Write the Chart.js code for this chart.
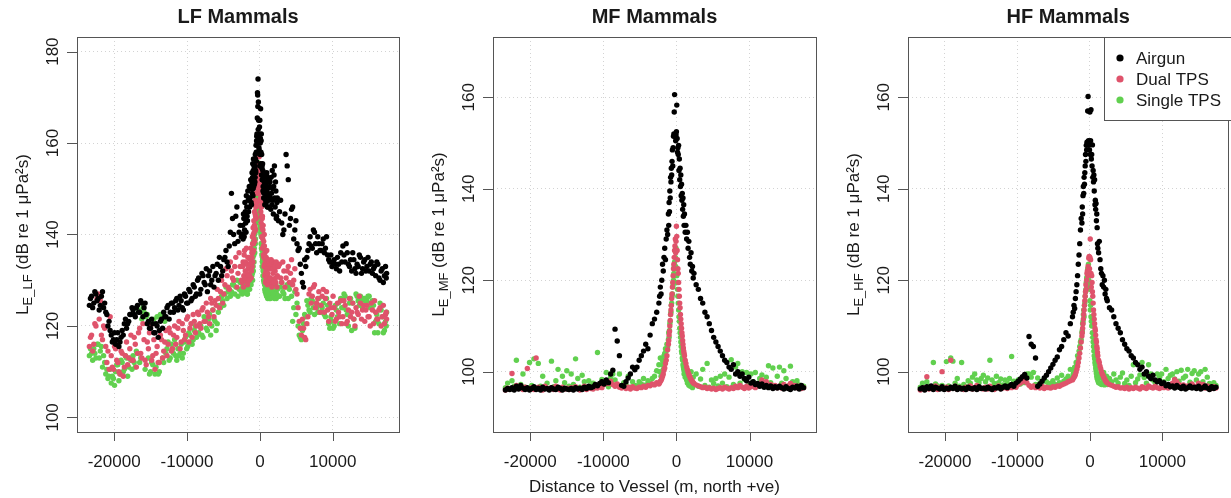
<!DOCTYPE html>
<html>
<head>
<meta charset="utf-8">
<script src="https://cdn.jsdelivr.net/npm/chart.js"></script>
<style>
  html, body { margin: 0; padding: 0; background: #fff; }
  #wrap { position: relative; width: 1231px; height: 498px; overflow: hidden; }
  #wrap canvas { position: absolute; top: 0; }
</style>
</head>
<body>
<div id="wrap">
  <canvas id="lf" width="410" height="498" style="left:0px"></canvas>
  <canvas id="mf" width="410" height="498" style="left:410px"></canvas>
  <canvas id="hf" width="411" height="498" style="left:820px"></canvas>
</div>
<script>
// distance to vessel (m, north +ve), shared by all three panels
const distance = [
  -23400, -23100, -22800, -22500, -22200, -21900, -21600, -21300, -21000, -20700,
  -20400, -20100, -19800, -19500, -19200, -18900, -18600, -18300, -18000, -17700,
  -17400, -17100, -16800, -16500, -16200, -15900, -15600, -15300, -15000, -14700,
  -14400, -14100, -13800, -13500, -13200, -12900, -12600, -12300, -12000, -11700,
  -11400, -11100, -10800, -10500, -10200, -9900, -9600, -9300, -9000, -8700,
  -8400, -8100, -7800, -7500, -7200, -6900, -6600, -6300, -6000, -5700,
  -5400, -5100, -4800, -4500, -4200, -3900, -3600, -3300, -3000, -2700,
  -2400, -2300, -2200, -2100, -2000, -1900, -1800, -1700, -1600, -1500,
  -1400, -1300, -1200, -1100, -1050, -1000, -950, -900, -850, -800,
  -750, -700, -650, -600, -550, -500, -450, -400, -350, -300,
  -250, -200, -150, -100, -50, 0, 50, 100, 150, 200,
  250, 300, 350, 400, 450, 500, 550, 600, 650, 700,
  750, 800, 850, 900, 950, 1000, 1050, 1100, 1200, 1300,
  1400, 1500, 1600, 1700, 1800, 1900, 2000, 2100, 2200, 2300,
  2400, 2700, 3000, 3300, 3600, 3900, 4200, 4500, 4800, 5100,
  5400, 5700, 6000, 6300, 6600, 6900, 7200, 7500, 7800, 8100,
  8400, 8700, 9000, 9300, 9600, 9900, 10200, 10500, 10800, 11100,
  11400, 11700, 12000, 12300, 12600, 12900, 13200, 13500, 13800, 14100,
  14400, 14700, 15000, 15300, 15600, 15900, 16200, 16500, 16800, 17100,
  17400
];
// second pass of LF measurements, between the first ones
const distanceB = [
  -23250, -22950, -22650, -22350, -22050, -21750, -21450, -21150, -20850, -20550,
  -20250, -19950, -19650, -19350, -19050, -18750, -18450, -18150, -17850, -17550,
  -17250, -16950, -16650, -16350, -16050, -15750, -15450, -15150, -14850, -14550,
  -14250, -13950, -13650, -13350, -13050, -12750, -12450, -12150, -11850, -11550,
  -11250, -10950, -10650, -10350, -10050, -9750, -9450, -9150, -8850, -8550,
  -8250, -7950, -7650, -7350, -7050, -6750, -6450, -6150, -5850, -5550,
  -5250, -4950, -4650, -4350, -4050, -3750, -3450, -3150, -2850, -2550,
  -2350, -2250, -2150, -2050, -1950, -1850, -1750, -1650, -1550, -1450,
  -1350, -1250, -1150, -1075, -1025, -975, -925, -875, -825, -775,
  -725, -675, -625, -575, -525, -475, -425, -375, -325, -275,
  -225, -175, -125, -75, -25, 25, 75, 125, 175, 225,
  275, 325, 375, 425, 475, 525, 575, 625, 675, 725,
  775, 825, 875, 925, 975, 1025, 1075, 1150, 1250, 1350,
  1450, 1550, 1650, 1750, 1850, 1950, 2050, 2150, 2250, 2350,
  2550, 2850, 3150, 3450, 3750, 4050, 4350, 4650, 4950, 5250,
  5550, 5850, 6150, 6450, 6750, 7050, 7350, 7650, 7950, 8250,
  8550, 8850, 9150, 9450, 9750, 10050, 10350, 10650, 10950, 11250,
  11550, 11850, 12150, 12450, 12750, 13050, 13350, 13650, 13950, 14250,
  14550, 14850, 15150, 15450, 15750, 16050, 16350, 16650, 16950, 17250,
  17350
];

// LF weighted levels
const lfAirgun = [
  124.5, 126.5, 125, 127, 126, 124.5, 127.5, 125, 122.5, 121,
  118, 117, 116, 118.5, 116.5, 119, 120.5, 119.5, 121, 122.5,
  123.5, 122, 124.5, 123, 125, 124, 122.5, 121, 119.5, 120.5,
  118.5, 120, 119, 121.5, 123, 122, 124.5, 123, 125, 124,
  126, 124.5, 125.5, 123.5, 126.5, 125, 127.5, 126, 128.5, 127,
  130.5, 128, 131, 129, 127.5, 132, 130, 128.5, 131.5, 130,
  133, 132, 135, 134, 137.5, 149, 140, 144, 138.5, 142,
  140, 139, 143.5, 141, 145, 140.5, 146, 143, 147.5, 148,
  146, 150, 147, 151.5, 149, 152.5, 148.5, 154, 150.5, 155,
  151, 155, 152.5, 156.5, 153.5, 158, 160.5, 162, 165.5, 170.5,
  174, 169, 161, 158.5, 163.5, 165, 160, 167.5, 158, 162,
  157.5, 155, 152, 154, 150.5, 153, 149, 151.5, 148, 150,
  152.5, 147.5, 151, 149, 153.5, 148.5, 150, 146, 152, 148.5,
  151.5, 145.5, 149, 154, 147.5, 150.5, 155, 146, 149.5, 144,
  148, 145, 142.5, 141, 157.5, 152, 143.5, 146, 141, 138,
  137, 131.5, 128.5, 133, 136.5, 139.5, 137, 140.5, 136, 138,
  136.5, 139, 137, 135.5, 134, 133, 134.5, 132.5, 133.5, 136,
  137.5, 134, 136, 133, 132, 134.5, 131.5, 133, 135, 132.5,
  134.5, 133, 132, 134, 132.5, 131, 133.5, 130, 132.5, 131,
  131.5
];
const lfAirgunB = [
  126, 124, 127.5, 125.5, 123.5, 126.5, 124, 123, 120, 119,
  116.5, 118.5, 117, 115.5, 117.5, 118, 121.5, 120.5, 122.5, 124,
  122.5, 124, 123, 125.5, 122, 125, 120.5, 119.5, 121.5, 118.5,
  120.5, 117.5, 121, 119.5, 122, 124, 121.5, 125, 123, 125.5,
  123.5, 126.5, 124, 127, 125, 128, 125.5, 129, 126.5, 130,
  127, 131.5, 129.5, 132.5, 131, 129, 133, 131, 133.5, 135,
  131, 134.5, 136.5, 133, 140.5, 143.5, 138, 146, 140.5, 139.5,
  142, 144.5, 139.5, 147, 142.5, 148.5, 144, 149.5, 145, 150.5,
  148, 152, 146.5, 153.5, 151, 155.5, 150, 156.5, 152, 153.5,
  154.5, 151.5, 157.5, 154, 159.5, 156, 161.5, 160, 171, 168,
  163, 165, 159, 162, 155, 157.5, 161, 155.5, 160.5, 153,
  154.5, 152, 155.5, 149.5, 152.5, 148, 153.5, 150, 146.5, 151,
  149, 151.5, 147, 153, 150, 146, 152.5, 149, 147.5, 150.5,
  148, 152.5, 146.5, 150, 144.5, 153, 148, 151.5, 143.5, 147,
  143, 147.5, 140, 144.5, 155, 142, 145.5, 139, 143, 136.5,
  133.5, 129.5, 134.5, 135, 138, 137.5, 141, 138, 139.5, 136.5,
  138, 136, 139.5, 134.5, 135.5, 134, 133.5, 135, 132, 134,
  135.5, 138, 133.5, 134.5, 136, 132.5, 133.5, 135.5, 131.5, 134,
  132, 135, 133.5, 131.5, 133, 134, 130.5, 132, 129.5, 133,
  130.5
];
const lfDual = [
  115.5, 118, 116, 120, 127, 125.5, 117, 119.5, 112, 110.5,
  113.5, 110.5, 115, 112, 109.5, 114, 111, 116.5, 113, 118,
  112.5, 116, 114, 119.5, 113, 117, 111.5, 115, 120, 113.5,
  110.5, 115.5, 112, 117, 114.5, 119, 116, 118.5, 115, 120,
  117.5, 121, 116.5, 119, 118, 122, 119.5, 117.5, 121, 120,
  122.5, 119.5, 124, 121, 123, 120.5, 125, 122, 124.5, 126,
  127.5, 125, 129, 131, 128, 132, 130, 135, 131.5, 133,
  129.5, 134, 131, 136.5, 132, 130, 133.5, 129, 132.5, 135,
  131, 134.5, 130.5, 136, 133, 138, 134, 140, 136.5, 139,
  142, 138.5, 144.5, 141, 146, 143.5, 149, 147, 152, 150,
  155.5, 153, 161.5, 157, 154, 152, 150.5, 148, 146, 144,
  147, 141.5, 144, 139, 142, 137.5, 135, 140, 133.5, 136,
  131.5, 134.5, 130, 133, 136.5, 131, 134, 129.5, 133, 130.5,
  132.5, 130, 133.5, 129, 131.5, 134, 130, 132, 129.5, 133,
  131, 133.5, 129.5, 132, 130.5, 133, 131.5, 129, 132.5, 127,
  121, 118, 119.5, 117, 122, 128, 126.5, 129, 125, 127.5,
  124.5, 128, 126, 123.5, 125, 122.5, 124, 121.5, 123, 125.5,
  122, 124.5, 121, 126, 123, 121.5, 124, 122.5, 125, 123.5,
  121, 124.5, 122, 125, 120.5, 123, 121.5, 124, 122, 120.5,
  121.5
];
const lfDualB = [
  117.5, 114.5, 120.5, 126, 121.5, 118, 120, 115.5, 114.5, 122,
  111, 115.5, 112.5, 110, 114.5, 109, 113.5, 111.5, 115, 112.5,
  117.5, 111, 118.5, 114, 120.5, 112.5, 116.5, 118.5, 112.5, 117,
  114, 112, 118, 113, 116.5, 113.5, 119.5, 114.5, 118, 116,
  119.5, 115, 120.5, 117, 121.5, 116.5, 120.5, 122.5, 118.5, 123,
  120.5, 123.5, 121, 125, 122, 126, 123.5, 125.5, 128, 124,
  130, 127, 132.5, 128.5, 134, 130.5, 133, 128.5, 136, 130,
  133, 128.5, 135.5, 130.5, 134, 137, 131.5, 135, 131, 130,
  133.5, 137, 132, 135, 139.5, 136, 141.5, 138, 143, 140.5,
  145, 141.5, 147.5, 144, 149, 146.5, 153, 150.5, 155, 153.5,
  158, 151.5, 149, 155.5, 151, 147.5, 149.5, 145, 142.5, 146,
  139.5, 143.5, 137, 141, 135.5, 138.5, 133, 137.5, 131, 134.5,
  129.5, 132, 135, 130.5, 132.5, 129, 131.5, 134.5, 130, 132.5,
  130.5, 134.5, 128.5, 132.5, 130, 129.5, 133, 130.5, 134, 128.5,
  133, 130.5, 134, 128.5, 132, 129.5, 134.5, 130, 128, 124,
  119.5, 121.5, 117.5, 120.5, 127, 125, 128.5, 124, 126, 123,
  126.5, 123, 127.5, 121, 124, 126.5, 121, 125, 122, 120.5,
  125.5, 120.5, 123.5, 122, 125, 120, 123, 126.5, 121.5, 124.5,
  123.5, 122, 120, 123.5, 125.5, 121.5, 123.5, 120, 124.5, 122.5,
  123
];
const lfSingle = [
  113.5, 114, 115, 113, 116, 114.5, 111, 112, 110.5, 109,
  107.5, 108.5, 110, 111.5, 109.5, 112, 110.5, 113, 111, 112.5,
  113.5, 111, 114, 112, 121.5, 123, 122, 113, 110, 111.5,
  109.5, 122, 110, 121.5, 112, 114, 116.5, 113, 115, 117,
  112.5, 113.5, 116, 114, 117.5, 115.5, 118, 116, 119, 117.5,
  118.5, 120, 117.5, 121, 119, 122.5, 120, 121.5, 119, 123,
  124, 125.5, 127, 126, 128, 127.5, 129, 128.5, 126.5, 129.5,
  127, 129, 128, 130, 127.5, 129.5, 128.5, 127, 130, 129,
  128, 130.5, 129, 131, 133, 130, 135, 132, 137, 134,
  138, 136, 140.5, 139, 143, 141, 146, 144.5, 149, 147,
  152, 155.5, 150, 148, 146.5, 144, 145, 142, 140, 139.5,
  138, 136.5, 134, 135, 132, 133.5, 131, 130, 129, 131.5,
  128, 130, 127.5, 129.5, 128.5, 126.5, 129, 127, 128, 126,
  128.5, 127, 129, 126.5, 128, 127.5, 126, 128.5, 129, 127,
  128, 126.5, 129.5, 127, 128.5, 126, 129, 121, 127.5, 125,
  118, 117, 120.5, 122, 124.5, 123, 125.5, 122.5, 124, 126,
  123, 125, 122, 124.5, 119.5, 121, 120, 123.5, 125, 126,
  124, 126.5, 122.5, 125, 119, 121.5, 127, 125.5, 126.5, 124,
  126, 125.5, 126.5, 125, 124.5, 121, 118.5, 125, 122, 119,
  123
];
const lfSingleB = [
  115, 112.5, 114, 116, 113, 115.5, 113.5, 109.5, 108.5, 110.5,
  109, 107, 111.5, 108, 112.5, 110, 113.5, 109, 113, 110.5,
  112, 114.5, 123.5, 113, 124, 110.5, 122.5, 109.5, 112, 121.5,
  111, 109.5, 122.5, 113, 121, 115, 112.5, 116, 114, 113.5,
  115, 114, 113, 116.5, 115, 118.5, 116.5, 117, 120, 118,
  120, 118, 122, 119.5, 121.5, 118, 123.5, 121, 120.5, 124.5,
  126.5, 124.5, 128.5, 127.5, 126.5, 129, 127, 130, 128, 127.5,
  128.5, 127.5, 129.5, 128, 130, 128.5, 127, 129.5, 128, 130.5,
  129.5, 131.5, 130, 134, 131.5, 136.5, 133, 138.5, 135.5, 137,
  140, 142, 138, 144, 142.5, 145.5, 143, 148, 151, 153,
  155.7, 149, 147, 145.5, 143, 141.5, 143.5, 140.5, 138, 137,
  135.5, 133, 134.5, 131, 132.5, 130, 129.5, 131, 128, 127.5,
  129.5, 127, 128, 126.5, 129, 127.5, 126, 128.5, 127, 129,
  126, 128, 127.5, 129.5, 127, 126.5, 128.5, 127, 126, 128,
  126.5, 128.5, 127.5, 126, 129, 128, 126.5, 124, 122.5, 120,
  117.5, 119, 122.5, 125.5, 123.5, 126, 124, 125, 123, 124.5,
  124, 122.5, 126, 120.5, 122, 119.5, 124.5, 122, 120.5, 124,
  127, 123.5, 120, 126, 125, 119.5, 126.5, 124.5, 125.5, 126,
  125, 126.5, 124, 125.5, 118.5, 122.5, 120.5, 123.5, 118.5, 121,
  120
];

// MF weighted levels
const mfAirgun = [
  96, 96.3, 96.1, 96.5, 96, 96.8, 96.2, 97, 96.4, 96.1,
  96.5, 96, 96.3, 96.7, 96.1, 96.4, 96, 96.6, 96.2, 96.3,
  96, 96.5, 96.2, 96.1, 96.6, 96.3, 96, 96.4, 96.2, 96.1,
  96.3, 96, 96.5, 96.2, 96.4, 96.1, 96.6, 96.3, 96.8, 96.5,
  96.7, 97.2, 96.9, 97.4, 97.8, 97.3, 98.2, 97.6, 99.5, 100.3,
  109.3, 106.7, 103.5, 97, 96.8, 97.8, 98.6, 99.5, 101, 100.4,
  101, 102.5, 103.5, 104.5, 106, 105, 108, 110.5, 111.5, 113,
  115, 116.5, 118.5, 117, 120, 123.5, 122, 125, 127, 124.5,
  129, 131, 130, 134.5, 132, 137, 135, 139.5, 138, 142.5,
  141.5, 144.5, 143, 146, 148.5, 145, 149, 151.5, 152, 156.8,
  160.6, 151.5, 152, 150.5, 151.8, 152.5, 158.3, 151, 148, 149,
  147.5, 149.5, 144, 146.5, 142, 144.5, 140.5, 143, 138.5, 141,
  137.5, 139, 135.5, 138, 134, 136.5, 132, 134.5, 130.5, 132,
  129, 130.5, 127, 128.5, 125, 123.5, 126, 122, 123, 120.5,
  121.5, 119, 118, 116, 115, 113, 112, 110.5, 109, 107.5,
  106.5, 105.5, 104.5, 103.5, 102.5, 102, 101, 100.5, 101.5, 99.5,
  100, 99, 99.5, 98.5, 98, 98.8, 97.5, 97.8, 97.2, 97.4,
  96.8, 97.3, 96.6, 97, 96.5, 96.9, 96.3, 96.7, 96.4, 96.8,
  96.5, 96.2, 96.7, 96.3, 96.1, 96.6, 96.4, 96.8, 96.2, 97,
  96.5
];
const mfDual = [
  96, 96.4, 96.2, 99.6, 96.5, 97, 96.3, 96.8, 96.1, 96.6,
  100.7, 96.2, 96.5, 96.1, 103, 96.6, 96.3, 96, 96.8, 96.4,
  96.2, 96.5, 96.1, 96.8, 96.3, 96, 96.6, 96.2, 96.4, 96.1,
  96.5, 96.2, 96.7, 96.3, 96, 96.4, 96.8, 96.1, 96.5, 96.3,
  96.2, 96.6, 96.4, 96.9, 96.5, 97.2, 97.6, 97.4, 97.9, 97.2,
  96.8, 97.3, 96.6, 96.4, 96.8, 96.3, 96.6, 96.2, 96.7, 96.4,
  96.3, 96.6, 96.5, 96.8, 96.6, 97, 96.9, 97.3, 97.1, 97.6,
  97.3, 97.6, 97.9, 98.1, 98.5, 99, 99.5, 100.3, 100.8, 101.8,
  102.5, 103.5, 104.8, 106, 106.8, 108, 108.8, 110, 111.2, 112.5,
  113.5, 114.5, 116, 117, 118.5, 119.5, 121, 122.5, 123.5, 125,
  126.5, 127.5, 129, 126, 128.5, 131.8, 129.6, 126.5, 124.5, 122.5,
  121.5, 119.5, 118, 116.5, 115, 114, 112.5, 111.5, 110.5, 109.5,
  108.5, 107.8, 106.8, 106, 105.2, 104.5, 104, 103.5, 102.5, 101.8,
  101, 100.4, 99.8, 99.4, 99, 98.6, 98.3, 98, 97.8, 97.6,
  97.4, 97.1, 96.9, 96.7, 96.5, 96.6, 96.3, 96.5, 96.2, 96.4,
  96.1, 96.3, 96.5, 96.2, 96.6, 96.4, 96.2, 96.5, 96.3, 96.8,
  96.5, 97, 96.6, 96.3, 96.8, 96.4, 96.7, 97.2, 96.5, 96.9,
  97.3, 98.2, 97.5, 97.8, 96.9, 97.2, 96.6, 97, 96.5, 96.8,
  96.4, 97.2, 96.6, 96.9, 97.4, 96.7, 97, 96.5, 96.8, 96.3,
  96.5
];
const mfSingle = [
  96.5, 97.5, 96.2, 98, 96.8, 102.5, 96.4, 97.2, 99.5, 96.6,
  96.3, 102, 97, 102.8, 96.5, 101.8, 96.8, 99, 96.4, 97.5,
  96.2, 102.3, 96.7, 98, 100.5, 96.4, 99, 97.6, 100.2, 96.8,
  99.5, 97.2, 102.8, 98.5, 96.6, 99.2, 97.8, 96.4, 98, 96.9,
  97.5, 96.5, 104.2, 96.8, 98.3, 97.4, 99.8, 96.7, 98.8, 99.5,
  98.2, 97, 99.5, 96.8, 97.6, 97.2, 99, 96.6, 97.8, 97,
  96.9, 97.8, 97.3, 98.5, 97.1, 98, 97.5, 98.5, 99, 100.2,
  101.5, 100, 103, 99, 101.5, 102.5, 100.5, 103.5, 104, 105,
  104.5, 106, 105.5, 107, 108.5, 107.5, 109, 110.5, 111, 112.5,
  113, 114.5, 115, 116.5, 117, 118.5, 119, 120, 121.5, 123,
  124, 126.5, 125, 123, 127, 122.5, 121, 119.5, 118, 116.5,
  115, 113.5, 112, 111, 109.5, 108.5, 107.5, 106.5, 105.5, 104.5,
  104, 103, 102.5, 101.5, 101, 100.5, 99.5, 100, 98.8, 99.4,
  98.2, 97.5, 99.8, 97, 98.5, 96.8, 100, 97.6, 96.5, 98.8,
  97.2, 99.5, 96.8, 98.4, 100.5, 97, 101.8, 96.6, 98.2, 97.4,
  98.5, 96.9, 99, 97.5, 99.5, 96.7, 98.8, 102.6, 97.2, 101,
  101.8, 97.5, 100, 98.3, 99.8, 97, 99.5, 97.8, 99.8, 96.9,
  98.5, 99.3, 97.2, 98.8, 101.3, 97.6, 100.8, 96.8, 99, 101,
  97.5, 100.2, 98.5, 96.9, 101.2, 97.8, 96.6, 98, 97.1, 96.5,
  96.8
];

// HF weighted levels
const hfAirgun = [
  96.2, 96.5, 96, 96.7, 96.3, 96.9, 96.1, 96.6, 96.4, 96.2,
  96.7, 96.1, 96.4, 96.2, 96.6, 96.3, 96.8, 96.1, 96.5, 96.2,
  96.4, 96.1, 96.6, 96.3, 96.2, 96.5, 96.1, 96.7, 96.3, 96.4,
  96.2, 96.6, 96.3, 96.1, 96.5, 96.4, 96.7, 96.2, 96.6, 96.9,
  96.5, 96.9, 97.2, 96.8, 97.5, 97.9, 98.4, 98.9, 99.4, 98.6,
  107.7, 106, 105.5, 103, 96.8, 97.3, 97.9, 98.6, 99.2, 100,
  100.8, 101.6, 102.5, 103.2, 104.8, 105.5, 107, 108.5, 107.8, 110.5,
  112, 113, 114.5, 113.8, 116, 117.5, 119, 121, 123.5, 125.5,
  128, 131, 133.5, 132.5, 136, 134.5, 138.5, 140.5, 139, 142.5,
  141, 143.5, 145, 147.5, 146, 149.5, 148.5, 150.2, 149.8, 157,
  160.2, 150.5, 149.5, 150, 148.5, 156.8, 147.5, 150.5, 157.3, 146.5,
  147.5, 145, 149.6, 142.5, 144, 141.5, 143, 139.5, 142, 136.5,
  137.5, 135.5, 136.8, 133, 134.5, 131.5, 128, 127, 126, 128.5,
  124.5, 122.5, 121.5, 119, 121, 118.5, 120, 117, 118, 116,
  115.5, 114, 113.5, 112, 110.5, 109.5, 108.5, 107, 106, 105,
  104.5, 103.5, 103, 102, 101.5, 100.5, 101, 99.5, 100, 99,
  98.5, 99.2, 98.2, 97.8, 98, 97.4, 97.6, 96.9, 97.2, 96.7,
  96.9, 96.4, 97, 96.6, 96.3, 96.8, 96.2, 96.5, 96.9, 96.4,
  96.6, 96.3, 96.8, 96.2, 96.5, 96.9, 96.4, 96.1, 96.7, 96.3,
  96.6
];
const hfDual = [
  96, 96.3, 96.5, 98.9, 96.2, 96.7, 96.4, 96.9, 96.1, 96.5,
  100, 96.3, 96.6, 96.1, 102.5, 96.4, 96.8, 96.2, 96.5, 96.3,
  96.1, 96.6, 96.3, 96.9, 96.2, 96.5, 97, 96.3, 96.4, 96.2,
  96.6, 96.2, 96.8, 96.4, 96.1, 96.5, 96.9, 96.3, 96.4, 96.6,
  96.3, 96.7, 96.5, 97, 96.6, 97.2, 97.5, 97.8, 98.2, 97.6,
  97, 96.6, 96.9, 96.5, 96.7, 96.4, 96.8, 96.3, 96.6, 96.5,
  96.4, 96.7, 96.6, 96.9, 96.8, 97.1, 97.3, 97.5, 97.8, 98,
  98.2, 98.5, 98.8, 99, 99.4, 99.9, 100.5, 101.2, 102, 103,
  104, 105.2, 106.5, 107.8, 108.5, 109.5, 110.5, 111.5, 112.5, 113.5,
  114.5, 115.5, 116.5, 117.5, 119, 118, 120, 121.5, 122, 121,
  123, 122, 124.8, 125.2, 122.5, 125, 129, 124.5, 121.5, 118.5,
  121, 119.5, 117.5, 116.5, 115, 113.5, 112.5, 111.5, 110.5, 109.5,
  109, 108, 107, 106.5, 105.5, 105, 104.2, 103.5, 102.5, 102,
  101.2, 100.6, 100, 99.5, 99.2, 98.8, 98.5, 98.2, 97.9, 97.7,
  97.5, 97.2, 97, 96.8, 96.6, 96.7, 96.4, 96.5, 96.3, 96.6,
  96.2, 96.5, 96.3, 96.6, 96.4, 96.2, 96.7, 96.5, 96.3, 96.9,
  96.6, 96.4, 96.8, 96.5, 96.3, 96.7, 96.5, 96.9, 96.4, 97.1,
  97.5, 98.3, 97.8, 97.2, 96.8, 97.1, 96.5, 96.9, 96.6, 97.3,
  96.8, 96.5, 97.5, 96.7, 97.2, 96.4, 96.9, 96.6, 96.3, 96.7,
  96.4
];
const hfSingle = [
  96.6, 97.5, 96.3, 97.8, 96.8, 96.5, 102, 97.3, 96.9, 96.4,
  97, 96.6, 102.2, 96.9, 103, 102.3, 97.5, 98.5, 96.8, 102,
  97.2, 96.7, 98, 97.5, 98.8, 99.5, 98.2, 97.6, 98.5, 99.2,
  97.8, 98.6, 102.5, 98.2, 97.4, 99, 97.6, 98.4, 97.1, 98.2,
  97.5, 98.5, 103.3, 97.9, 96.8, 98.2, 97.3, 98.8, 97.6, 99.5,
  99.5, 98.8, 99.8, 97.2, 98.6, 97.5, 96.9, 98.2, 97.8, 96.9,
  97.5, 98, 97.2, 98.6, 97.6, 99.2, 97.9, 98.4, 99, 100.5,
  98.5, 99.5, 100.2, 101, 99.8, 102, 101.5, 103.5, 102.8, 104.5,
  105.5, 106.5, 107, 108.5, 109, 110.5, 111, 112.5, 113.5, 112,
  114.5, 115, 116.5, 117.5, 118, 119.5, 120.5, 118.5, 121, 122.5,
  121.5, 123.5, 120, 119, 118, 115.5, 113.5, 114.5, 112, 111,
  110, 111, 108.5, 107.5, 106.5, 105.5, 104.5, 103.5, 102.8, 102,
  101.5, 100.8, 100.2, 99.6, 99, 98.5, 99.5, 98, 97.6, 98.8,
  97.4, 99.2, 97.2, 98.6, 97.8, 99.8, 97.1, 98.4, 97.5, 99,
  97.2, 98.5, 97.8, 99.5, 98.2, 97.5, 98.8, 99.7, 97.4, 98.2,
  97, 99, 101.5, 97.6, 98.4, 99.3, 102, 98.7, 97.5, 101.5,
  99.5, 98.2, 97.6, 99.5, 98.8, 99.5, 97.8, 100.5, 98.5, 99.2,
  99.5, 98.4, 100, 97.9, 100.3, 98.6, 99, 100.5, 97.7, 99.6,
  100.2, 98.2, 99.5, 100, 97.8, 100.5, 98.8, 97.4, 96.9, 97.6,
  97
];

// tick labels
const xTicks = [-20000, -10000, 0, 10000];
const lfYTicks = [100, 120, 140, 160, 180];
const mfYTicks = [100, 120, 140, 160];
const hfYTicks = [100, 120, 140, 160];

const seriesNames = ['Airgun', 'Dual TPS', 'Single TPS'];
const seriesColors = ['#000000', '#DF536B', '#61D04F'];

const FONT = "'Liberation Sans', Arial, Helvetica, sans-serif";
const TEXT = '#1a1a1a';
const AXIS = '#555555';

function drawYTitle(ctx, x, y, sub) {
  const main = `17px ${FONT}`;
  const small = `13px ${FONT}`;
  const rest = ' (dB re 1 \u03bcPa\u00b2s)';
  ctx.save();
  ctx.translate(x, y);
  ctx.rotate(-Math.PI / 2);
  ctx.fillStyle = TEXT;
  ctx.textAlign = 'left';
  ctx.textBaseline = 'alphabetic';
  ctx.font = main;
  const wL = ctx.measureText('L').width;
  const wR = ctx.measureText(rest).width;
  ctx.font = small;
  const wS = ctx.measureText(sub).width;
  let cx = -(wL + wS + wR) / 2;
  ctx.font = main;
  ctx.fillText('L', cx, 0);
  cx += wL;
  ctx.font = small;
  ctx.fillText(sub, cx, 4);
  cx += wS;
  ctx.font = main;
  ctx.fillText(rest, cx, 0);
  ctx.restore();
}

// R-style frame, ticks, labels and legend
const rFrame = {
  id: 'rFrame',
  afterDraw(chart, args, opts) {
    const { ctx, chartArea: a, scales } = chart;
    ctx.save();
    ctx.strokeStyle = AXIS;
    ctx.lineWidth = 1;
    ctx.strokeRect(Math.round(a.left) + 0.5, Math.round(a.top) + 0.5,
      Math.round(a.right - a.left), Math.round(a.bottom - a.top));

    ctx.beginPath();
    xTicks.forEach((v) => {
      const px = Math.round(scales.x.getPixelForValue(v)) + 0.5;
      ctx.moveTo(px, a.bottom);
      ctx.lineTo(px, a.bottom + 9);
    });
    opts.yTicks.forEach((v) => {
      const py = Math.round(scales.y.getPixelForValue(v)) + 0.5;
      ctx.moveTo(a.left - 10, py);
      ctx.lineTo(a.left, py);
    });
    ctx.stroke();

    ctx.fillStyle = TEXT;
    ctx.font = `17px ${FONT}`;
    ctx.textAlign = 'center';
    ctx.textBaseline = 'alphabetic';
    xTicks.forEach((v) => {
      ctx.fillText(String(v), scales.x.getPixelForValue(v), 467);
    });
    opts.yTicks.forEach((v) => {
      ctx.save();
      ctx.translate(a.left - 19, scales.y.getPixelForValue(v));
      ctx.rotate(-Math.PI / 2);
      ctx.fillText(String(v), 0, 0);
      ctx.restore();
    });

    ctx.font = `bold 20px ${FONT}`;
    ctx.fillText(opts.title, (a.left + a.right) / 2, 23);

    if (opts.xTitle) {
      ctx.font = `17px ${FONT}`;
      ctx.fillText(opts.xTitle, (a.left + a.right) / 2, 492);
    }
    drawYTitle(ctx, a.left - 49, (a.top + a.bottom) / 2, opts.sub);

    if (opts.legend) {
      const lx = 284;
      const ly = 37;
      ctx.fillStyle = '#ffffff';
      ctx.fillRect(lx, ly, chart.width - lx + 2, 83);
      ctx.strokeStyle = AXIS;
      ctx.strokeRect(lx + 0.5, ly + 0.5, chart.width - lx + 2, 83);
      ctx.font = `17px ${FONT}`;
      ctx.textAlign = 'left';
      ctx.textBaseline = 'middle';
      seriesNames.forEach((name, i) => {
        const yy = 58 + i * 21;
        ctx.fillStyle = seriesColors[i];
        ctx.beginPath();
        ctx.arc(lx + 16, yy, 3.6, 0, Math.PI * 2);
        ctx.fill();
        ctx.fillStyle = TEXT;
        ctx.fillText(name, lx + 32, yy + 1);
      });
    }
    ctx.restore();
  },
};

function toPoints(xs, ys) {
  return xs.map((d, j) => ({ x: d, y: ys[j] }));
}

function makePanel(id, cfg) {
  const sets = [0, 1, 2].map((i) => {
    let pts = toPoints(distance, cfg.series[i]);
    if (cfg.extra) pts = pts.concat(toPoints(distanceB, cfg.extra[i]));
    return {
      label: seriesNames[i],
      data: pts,
      backgroundColor: seriesColors[i],
      pointRadius: 2.7,
      pointHoverRadius: 2.7,
      pointBorderWidth: 0,
    };
  });
  return new Chart(document.getElementById(id), {
    type: 'scatter',
    data: { datasets: sets },
    options: {
      responsive: false,
      animation: false,
      devicePixelRatio: 1,
      events: [],
      layout: { padding: cfg.pad },
      plugins: {
        legend: { display: false },
        tooltip: { enabled: false },
        rFrame: {
          title: cfg.title, sub: cfg.sub, yTicks: cfg.yTicks,
          xTitle: cfg.xTitle, legend: cfg.legend,
        },
      },
      scales: {
        x: {
          type: 'linear',
          min: -25100,
          max: 19100,
          afterBuildTicks: (axis) => { axis.ticks = xTicks.map((v) => ({ value: v })); },
          ticks: { display: false },
          grid: { color: '#d3d3d3', lineWidth: 1, drawTicks: false },
          border: { display: false, dash: [1, 3] },
        },
        y: {
          type: 'linear',
          min: cfg.yMin,
          max: cfg.yMax,
          afterBuildTicks: (axis) => { axis.ticks = cfg.yTicks.map((v) => ({ value: v })); },
          ticks: { display: false },
          grid: { color: '#d3d3d3', lineWidth: 1, drawTicks: false },
          border: { display: false, dash: [1, 3] },
        },
      },
    },
    plugins: [rFrame],
  });
}

makePanel('lf', {
  title: 'LF Mammals', sub: 'E_LF', yMin: 96.8, yMax: 183.2, yTicks: lfYTicks,
  series: [lfAirgun, lfDual, lfSingle],
  extra: [lfAirgunB, lfDualB, lfSingleB],
  pad: { left: 77, right: 11, top: 37, bottom: 66 },
});
makePanel('mf', {
  title: 'MF Mammals', sub: 'E_MF', yMin: 86.8, yMax: 173.2, yTicks: mfYTicks,
  series: [mfAirgun, mfDual, mfSingle],
  xTitle: 'Distance to Vessel (m, north +ve)',
  pad: { left: 83, right: 4, top: 37, bottom: 66 },
});
makePanel('hf', {
  title: 'HF Mammals', sub: 'E_HF', yMin: 86.8, yMax: 173.2, yTicks: hfYTicks,
  series: [hfAirgun, hfDual, hfSingle], legend: true,
  pad: { left: 88, right: 1, top: 37, bottom: 66 },
});
</script>
</body>
</html>
